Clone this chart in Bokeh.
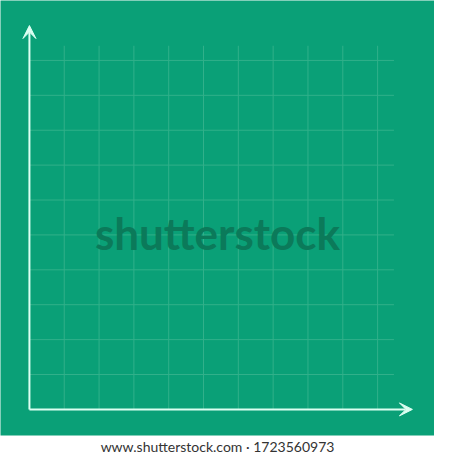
from bokeh.plotting import figure
from bokeh.models import Range1d, Arrow, VeeHead, Title
from bokeh.embed import file_html
from bokeh.resources import INLINE
from bokeh.core.properties import value

# grid positions (axis units) and extents
x_grid = [1, 2, 3, 4, 5, 6, 7, 8, 9, 10]
y_grid = [1, 2, 3, 4, 5, 6, 7, 8, 9, 10]
grid_x_end = 10.47
grid_y_end = 10.42
axis_end = 11.0

watermark = "shutterstock"
caption = "www.shutterstock.com \u00b7 1723560973"

GREEN = "#0aa077"
GRID = "#31b08a"
AXIS = "#dcfff2"
MARK = "#0b7a5a"

W, H = 434, 454
unit = 36.1  # reference pixels per grid cell
bottom_strip = 20 * H / 470

p = figure(width=W, height=H, output_backend="svg", toolbar_location=None,
           x_axis_location=None, y_axis_location=None,
           min_border_left=0, min_border_right=0, min_border_top=0,
           min_border_bottom=int(round(bottom_strip)),
           background_fill_color=GREEN, border_fill_color="white",
           outline_line_color=None)
p.x_range = Range1d(-30 / unit, 420 / unit)
p.y_range = Range1d(-27 / unit, 423 / unit)
p.xgrid.visible = False
p.ygrid.visible = False

# grid lines
p.segment(x0=x_grid, y0=[0] * len(x_grid), x1=x_grid, y1=[grid_y_end] * len(x_grid),
          line_color=GRID, line_width=1)
p.segment(x0=[0] * len(y_grid), y0=y_grid, x1=[grid_x_end] * len(y_grid), y1=y_grid,
          line_color=GRID, line_width=1)

# watermark
p.text(x=[5.4], y=[5.05], text=[watermark], text_align="center", text_baseline="alphabetic",
       text_font=value("Lato"), text_font_style="bold", text_font_size="44px",
       text_color=MARK)

# axes with arrow heads
for xe, ye in [(axis_end, 0), (0, axis_end)]:
    p.add_layout(Arrow(end=VeeHead(size=13, fill_color=AXIS, line_color=AXIS),
                       x_start=0, y_start=0, x_end=xe, y_end=ye,
                       line_color=AXIS, line_width=2))

p.add_layout(Title(text=caption, align="center", text_font="Lato", text_font_style="normal",
                   text_font_size="14px", text_color="#333333", offset=0, standoff=0), "below")

open("out.html", "w").write(file_html(p, INLINE))
